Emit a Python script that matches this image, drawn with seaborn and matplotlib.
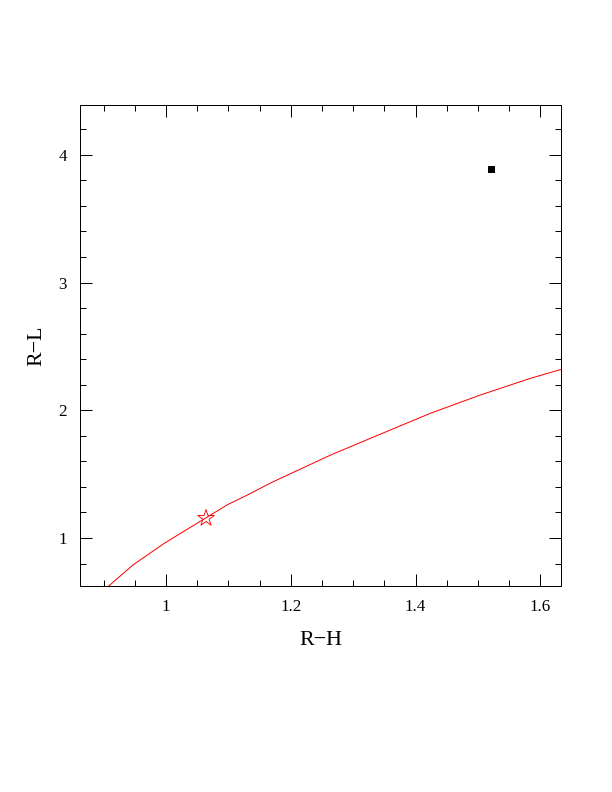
import matplotlib
matplotlib.use('Agg')
import matplotlib.pyplot as plt
import seaborn as sns
from matplotlib.ticker import MultipleLocator, FixedLocator

# Data
curve_x = [0.908, 0.947, 0.997, 1.064, 1.099, 1.131, 1.168, 1.200, 1.264,
           1.344, 1.424, 1.504, 1.584, 1.634]
curve_y = [0.624, 0.789, 0.958, 1.158, 1.262, 1.338, 1.432, 1.505, 1.650,
           1.814, 1.977, 2.120, 2.250, 2.321]
star_x = [1.064]
star_y = [1.155]
square_x = [1.520]
square_y = [3.887]

x_ticks = [1.0, 1.2, 1.4, 1.6]
x_tick_labels = ["1", "1.2", "1.4", "1.6"]
y_ticks = [1, 2, 3, 4]
y_tick_labels = ["1", "2", "3", "4"]

sns.set_theme(style='ticks')
plt.rcParams['font.family'] = ['Liberation Serif', 'DejaVu Serif']

fig = plt.figure(figsize=(8.5, 11), dpi=72)
ax = fig.add_axes([0.1307, 0.2601, 0.786, 0.6073])

sns.lineplot(x=curve_x, y=curve_y, sort=False, estimator=None, color='red',
             linewidth=1.0, ax=ax)
sns.scatterplot(x=star_x, y=star_y, marker='*', s=300, facecolors='none',
                edgecolor='red', linewidth=0.9, ax=ax, zorder=3)
sns.scatterplot(x=square_x, y=square_y, marker='s', s=49, color='black',
                linewidth=0, ax=ax, zorder=3)

ax.set_xlim(0.862, 1.633)
ax.set_ylim(0.624, 4.39)

ax.xaxis.set_major_locator(FixedLocator(x_ticks))
ax.set_xticklabels(x_tick_labels)
ax.yaxis.set_major_locator(FixedLocator(y_ticks))
ax.set_yticklabels(y_tick_labels)
ax.xaxis.set_minor_locator(MultipleLocator(0.05))
ax.yaxis.set_minor_locator(MultipleLocator(0.2))

ax.tick_params(which='both', direction='in', top=True, right=True,
               width=1.0, color='black', labelsize=17, labelcolor='black')
ax.tick_params(which='major', length=12, pad=13)
ax.tick_params(which='minor', length=6)

for sp in ax.spines.values():
    sp.set_visible(True)
    sp.set_linewidth(1.0)
    sp.set_color('black')

ax.set_xlabel("R\u2212H", fontsize=22, labelpad=16, color='black')
ax.set_ylabel("R\u2212L", fontsize=22, labelpad=12, color='black')
ax.grid(False)

fig.savefig('out.png', dpi=72, facecolor='white')
